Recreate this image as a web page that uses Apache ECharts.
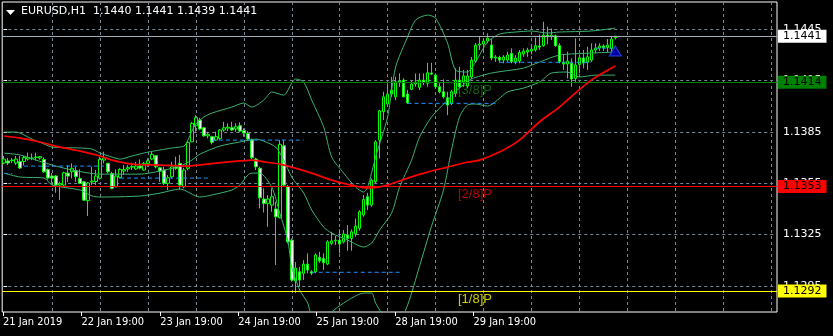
<!DOCTYPE html>
<html><head><meta charset="utf-8">
<script src="https://cdn.jsdelivr.net/npm/echarts@6/dist/echarts.min.js"></script>
<style>html,body{margin:0;padding:0;background:#000;}#c{width:833px;height:336px;}</style>
</head><body><div id="c"></div>
<script>
// ---------- data ----------
const symbolName = 'EURUSD,H1';
const opens = [1.13668,1.13680,1.13682,1.13668,1.13677,1.13677,1.13691,1.13694,1.13700,1.13697,
1.13689,1.13630,1.13592,1.13592,1.13539,1.13539,1.13609,1.13617,1.13623,1.13578,
1.13558,1.13448,1.13557,1.13560,1.13580,1.13685,1.13666,1.13607,1.13529,1.13584,
1.13621,1.13633,1.13644,1.13633,1.13650,1.13627,1.13666,1.13691,1.13711,1.13640,
1.13627,1.13549,1.13588,1.13646,1.13666,1.13529,1.13637,1.13792,1.13886,1.13919,
1.13874,1.13827,1.13822,1.13802,1.13812,1.13861,1.13872,1.13874,1.13867,1.13886,
1.13858,1.13841,1.13802,1.13691,1.13637,1.13457,1.13432,1.13422,1.13399,1.13348,
1.13769,1.13529,1.13217,1.12978,1.13032,1.13023,1.13077,1.13032,1.13032,1.13116,
1.13110,1.13077,1.13198,1.13213,1.13217,1.13207,1.13247,1.13227,1.13253,1.13286,
1.13364,1.13471,1.13422,1.13558,1.13802,1.13968,1.14013,1.14071,1.14055,1.14141,
1.14153,1.14071,1.14099,1.14130,1.14110,1.14153,1.14134,1.14194,1.14182,1.14114,
1.14085,1.14050,1.14017,1.14075,1.14153,1.14143,1.14118,1.14171,1.14264,1.14358,
1.14364,1.14381,1.14358,1.14282,1.14286,1.14270,1.14270,1.14309,1.14260,1.14264,
1.14305,1.14317,1.14323,1.14329,1.14352,1.14354,1.14416,1.14407,1.14412,1.14354,
1.14257,1.14247,1.14251,1.14163,1.14245,1.14282,1.14257,1.14270,1.14329,1.14340,
1.14352,1.14343,1.14338,1.14400];
const highs = [1.13709,1.13697,1.13697,1.13709,1.13709,1.13709,1.13729,1.13723,1.13729,1.13709,
1.13701,1.13636,1.13609,1.13598,1.13558,1.13617,1.13656,1.13666,1.13646,1.13631,
1.13564,1.13557,1.13646,1.13627,1.13705,1.13734,1.13670,1.13617,1.13631,1.13637,
1.13656,1.13656,1.13670,1.13675,1.13689,1.13675,1.13695,1.13734,1.13715,1.13646,
1.13646,1.13598,1.13675,1.13705,1.13715,1.13640,1.13796,1.13909,1.13948,1.13933,
1.13880,1.13851,1.13827,1.13851,1.13867,1.13909,1.13900,1.13909,1.13900,1.13906,
1.13871,1.13855,1.13812,1.13699,1.13646,1.13520,1.13481,1.13520,1.13441,1.13802,
1.13802,1.13539,1.13227,1.13089,1.13061,1.13100,1.13140,1.13042,1.13140,1.13149,
1.13140,1.13217,1.13266,1.13241,1.13280,1.13276,1.13305,1.13280,1.13344,1.13393,
1.13481,1.13494,1.13578,1.13802,1.13978,1.14085,1.14134,1.14172,1.14172,1.14192,
1.14163,1.14095,1.14153,1.14192,1.14192,1.14192,1.14254,1.14254,1.14192,1.14134,
1.14157,1.14085,1.14095,1.14222,1.14231,1.14212,1.14212,1.14288,1.14370,1.14405,
1.14399,1.14426,1.14393,1.14299,1.14295,1.14299,1.14319,1.14338,1.14299,1.14329,
1.14338,1.14342,1.14358,1.14401,1.14420,1.14494,1.14465,1.14455,1.14420,1.14368,
1.14303,1.14319,1.14280,1.14397,1.14303,1.14329,1.14348,1.14368,1.14368,1.14368,
1.14362,1.14393,1.14412,1.14410];
const lows = [1.13662,1.13656,1.13668,1.13656,1.13633,1.13653,1.13682,1.13685,1.13682,1.13688,
1.13611,1.13571,1.13551,1.13494,1.13451,1.13533,1.13558,1.13578,1.13558,1.13545,
1.13448,1.13358,1.13539,1.13539,1.13572,1.13666,1.13607,1.13514,1.13526,1.13578,
1.13598,1.13617,1.13627,1.13627,1.13631,1.13624,1.13646,1.13685,1.13637,1.13558,
1.13539,1.13510,1.13578,1.13627,1.13510,1.13520,1.13627,1.13789,1.13851,1.13861,
1.13822,1.13812,1.13777,1.13796,1.13802,1.13851,1.13855,1.13855,1.13851,1.13847,
1.13822,1.13796,1.13691,1.13627,1.13403,1.13379,1.13295,1.13383,1.13071,1.13344,
1.13529,1.13198,1.12974,1.12908,1.12944,1.12984,1.13023,1.13013,1.13023,1.13085,
1.13042,1.13071,1.13188,1.13188,1.13140,1.13198,1.13155,1.13155,1.13237,1.13272,
1.13354,1.13393,1.13412,1.13549,1.13695,1.13919,1.13997,1.14055,1.14036,1.14114,
1.14052,1.14013,1.14095,1.14114,1.14095,1.14124,1.14114,1.14182,1.14110,1.14075,
1.14046,1.13948,1.14007,1.14055,1.14105,1.14114,1.14106,1.14159,1.14253,1.14329,
1.14323,1.14368,1.14270,1.14260,1.14257,1.14251,1.14260,1.14251,1.14245,1.14251,
1.14289,1.14289,1.14303,1.14319,1.14329,1.14348,1.14362,1.14387,1.14348,1.14251,
1.14212,1.14163,1.14114,1.14143,1.14192,1.14222,1.14212,1.14260,1.14309,1.14323,
1.14323,1.14315,1.14303,1.14390];
const closes = [1.13691,1.13668,1.13685,1.13691,1.13639,1.13700,1.13700,1.13697,1.13703,1.13705,
1.13617,1.13580,1.13580,1.13539,1.13548,1.13611,1.13592,1.13637,1.13588,1.13549,
1.13451,1.13551,1.13562,1.13592,1.13689,1.13697,1.13617,1.13520,1.13592,1.13631,
1.13630,1.13641,1.13647,1.13650,1.13639,1.13666,1.13681,1.13719,1.13646,1.13621,
1.13549,1.13582,1.13646,1.13637,1.13539,1.13627,1.13789,1.13900,1.13933,1.13867,
1.13827,1.13836,1.13789,1.13822,1.13861,1.13874,1.13878,1.13861,1.13880,1.13855,
1.13843,1.13808,1.13699,1.13646,1.13465,1.13432,1.13457,1.13471,1.13354,1.13777,
1.13539,1.13207,1.12984,1.13054,1.12984,1.13077,1.13042,1.13024,1.13130,1.13096,
1.13085,1.13207,1.13213,1.13217,1.13194,1.13253,1.13227,1.13266,1.13299,1.13383,
1.13455,1.13422,1.13568,1.13792,1.13974,1.14055,1.14071,1.14095,1.14143,1.14147,
1.14055,1.14020,1.14130,1.14141,1.14153,1.14141,1.14196,1.14188,1.14114,1.14085,
1.14055,1.14007,1.14085,1.14153,1.14114,1.14178,1.14177,1.14270,1.14358,1.14364,
1.14381,1.14399,1.14282,1.14288,1.14270,1.14288,1.14299,1.14260,1.14282,1.14315,
1.14323,1.14329,1.14334,1.14354,1.14346,1.14416,1.14407,1.14416,1.14354,1.14260,
1.14247,1.14264,1.14159,1.14241,1.14283,1.14253,1.14289,1.14329,1.14340,1.14352,
1.14343,1.14358,1.14393,1.14410];

// Bollinger bands and moving average: [bar index, price] vertices
const bbUpper = [[0,1.13849],[3,1.13849],[4,1.13843],[7,1.13808],[10,1.13779],[12,1.13761],[19,1.13756],[22,1.13750],
[24,1.13726],[27,1.13703],[29,1.13691],[32,1.13709],[36,1.13732],[39,1.13744],[42,1.13756],[45,1.13767],[46,1.13802],
[47,1.13855],[48,1.13896],[50,1.13937],[52,1.13960],[57,1.13995],[60,1.14019],[62,1.13995],[65,1.14036],[67,1.14083],
[70,1.14065],[72,1.14136],[73,1.14159],[75,1.14141],[77,1.14036],[80,1.13878],[82,1.13703],[85,1.13609],[88,1.13527],
[90,1.13498],[91,1.13527],[93,1.13703],[96,1.13937],[98,1.14229],[101,1.14405],[103,1.14504],[106,1.14533],[108,1.14516],
[111,1.14370],[113,1.14212],[116,1.14200],[118,1.14258],[121,1.14375],[124,1.14422],[128,1.14434],[132,1.14440],
[136,1.14428],[139,1.14434],[147,1.14440],[153,1.14457]];
const bbMiddle = [[0,1.13726],[4,1.13715],[8,1.13685],[12,1.13656],[17,1.13627],[24,1.13603],[34,1.13603],[39,1.13621],
[44,1.13650],[47,1.13685],[49,1.13720],[54,1.13767],[59,1.13791],[63,1.13808],[65,1.13796],[68,1.13761],[70,1.13685],
[72,1.13586],[75,1.13492],[77,1.13393],[80,1.13293],[82,1.13258],[86,1.13217],[90,1.13177],[92,1.13200],[94,1.13276],
[97,1.13375],[99,1.13527],[102,1.13685],[104,1.13820],[107,1.13937],[111,1.14036],[114,1.14106],[117,1.14159],
[122,1.14194],[130,1.14223],[134,1.14258],[139,1.14299],[147,1.14311],[153,1.14317]];
const bbLower = [[0,1.13609],[4,1.13586],[10,1.13580],[12,1.13539],[19,1.13510],[22,1.13475],[24,1.13469],[34,1.13475],
[39,1.13492],[44,1.13516],[49,1.13469],[52,1.13481],[57,1.13510],[59,1.13539],[61,1.13598],[62,1.13609],[64,1.13609],
[67,1.13527],[69,1.13375],[71,1.13217],[72,1.13060],[74,1.12925],[76,1.12849],[77,1.12773],[80,1.12720],[82,1.12796],
[85,1.12849],[87,1.12878],[90,1.12908],[92,1.12908],[93,1.12849],[96,1.12738],[98,1.12703],[101,1.12837],[104,1.13065],
[107,1.13299],[110,1.13510],[112,1.13744],[114,1.13937],[116,1.14007],[118,1.14013],[121,1.14001],[126,1.14083],
[130,1.14106],[134,1.14141],[137,1.14194],[141,1.14200],[144,1.14171],[148,1.14182],[153,1.14182]];
const maLine = [[0,1.13826],[4,1.13814],[9,1.13791],[14,1.13761],[19,1.13738],[24,1.13709],[27,1.13685],[32,1.13662],
[39,1.13656],[46,1.13650],[52,1.13665],[59,1.13680],[62,1.13685],[66,1.13671],[69,1.13662],[72,1.13644],[77,1.13609],
[82,1.13568],[88,1.13533],[91,1.13522],[96,1.13539],[101,1.13580],[106,1.13615],[111,1.13644],[115,1.13668],
[119,1.13685],[124,1.13732],[129,1.13802],[134,1.13908],[139,1.13995],[143,1.14077],[147,1.14153],[153,1.14235]];
// dashed support/resistance segments: [from bar, to bar, price]
const dashedLevels = [[0,2,1.13607],[5,25,1.13650],[29,51,1.13580],[52,75,1.13802],[77,99,1.13029],
[101,123,1.14017],[124,147,1.14257],[148,152,1.14340]];
// horizontal price lines with right-hand price tags
const levelValues = [1.1441, 1.1414, 1.1353, 1.1292];
const levelColors = ['#a3adb8', '#008000', '#ff0000', '#ffff00'];
const tagColors = ['#ffffff', '#008000', '#ff0000', '#ffff00'];
// Murrey math captions
const murreyTexts = ['[3/8]P', '[2/8]P', '[1/8]P'];
const murreyLevels = [1.1414, 1.1353, 1.1292];
const murreyBar = 113;
const murreyColors = ['#137a13', '#e00000', '#ffff00'];
const arrowPoint = [153, 1.14323];
// axes
const priceTicks = [1.1295, 1.1325, 1.1355, 1.1385, 1.1415, 1.1445];
const timeLabels = ['21 Jan 2019','22 Jan 19:00','23 Jan 19:00','24 Jan 19:00','25 Jan 19:00','28 Jan 19:00','29 Jan 19:00'];
const timeLabelBars = [-0.3, 19.35, 39.05, 58.6, 78.2, 97.9, 117.5];
const gridBars = [12,24,36,48,60,72,84,96,108,120,132,144,156,168,180,192];
const totalSlots = 194;
const yMin = 1.127968, yMax = 1.1460965;

// ---------- chart ----------
const n = opens.length;
const candleData = opens.map((o, i) => [o, closes[i], lows[i], highs[i]]);
const slots = Array.from({length: totalSlots}, (_, i) => i);
const f4 = v => v.toFixed(4);
const last = n - 1;
const headerText = symbolName + '  ' + f4(opens[last]) + ' ' + f4(highs[last]) + ' ' + f4(lows[last]) + ' ' + f4(closes[last]);
const FONT = 'DejaVu Sans';

const series = [];
// horizontal level lines with price tags (carried by an otherwise empty line series)
series.push({
  type: 'line', data: [], z: 2, silent: true, symbol: 'none',
  markLine: {
    symbol: 'none', silent: true, animation: false, precision: 5,
    data: levelValues.map((v, k) => ({
      yAxis: v,
      lineStyle: { color: levelColors[k], width: 1, type: 'solid' },
      label: { show: true, position: 'end', distance: 1, formatter: f4(v), color: '#000000',
        backgroundColor: tagColors[k], padding: [1, 5, 0, 5], fontFamily: FONT, fontSize: 11, lineHeight: 12 }
    }))
  }
});
series.push({
  type: 'candlestick', xAxisIndex: 0, yAxisIndex: 0, data: candleData, barWidth: 3, z: 3,
  itemStyle: { color: '#000000', color0: '#ffffff', borderColor: '#00ff00', borderColor0: '#00ff00', borderColorDoji: '#00ff00', borderWidth: 1 }
});
[bbUpper, bbMiddle, bbLower].forEach(d => series.push({
  type: 'line', data: d, symbol: 'none', smooth: 0.25, z: 4, silent: true,
  lineStyle: { color: '#3cb371', width: 1 }
}));
series.push({ type: 'line', data: maLine, symbol: 'none', smooth: 0.25, z: 5, silent: true,
  lineStyle: { color: '#ff0000', width: 1.7 } });
dashedLevels.forEach(([a, b, p]) => series.push({
  type: 'line', data: [[a, p], [b, p]], symbol: 'none', z: 4, silent: true,
  lineStyle: { color: '#1e90ff', width: 1, type: [4, 3] }
}));
murreyTexts.forEach((t, k) => series.push({
  type: 'scatter', data: [[murreyBar, murreyLevels[k]]], symbolSize: 1, z: 1, silent: true,
  itemStyle: { color: 'rgba(0,0,0,0)' },
  label: { show: true, position: 'right', distance: 2, offset: [0, 8], formatter: t,
    color: murreyColors[k], fontFamily: 'Liberation Sans', fontSize: 13 }
}));
series.push({ type: 'scatter', data: [arrowPoint], symbol: 'triangle', symbolSize: [12, 10], z: 6, silent: true,
  itemStyle: { color: '#0000c8', borderColor: '#3050ff', borderWidth: 1 } });

const option = {
  backgroundColor: '#000000',
  animation: false,
  title: { text: headerText, left: 21, top: 6, padding: 0,
    textStyle: { color: '#ffffff', fontFamily: FONT, fontSize: 11, fontWeight: 'normal' } },
  graphic: [{ type: 'polygon', shape: { points: [[6, 10], [15, 10], [10.5, 15]] }, style: { fill: '#ffffff' } }],
  grid: { left: 2, right: 56, top: 2, bottom: 24, show: true, borderColor: '#ffffff', borderWidth: 1, backgroundColor: 'transparent' },
  xAxis: [
    { type: 'category', data: slots, boundaryGap: true, axisLine: { show: false }, axisTick: { show: false },
      axisLabel: { show: false }, splitLine: { show: false } },
    { type: 'value', min: -0.5, max: totalSlots - 0.5, position: 'bottom', axisLine: { show: false },
      axisTick: { show: false, customValues: gridBars }, axisLabel: { show: false },
      splitLine: { show: true, lineStyle: { color: '#778899', width: 1, type: [3, 3] } } },
    { type: 'value', min: -0.5, max: totalSlots - 0.5, position: 'bottom', axisLine: { show: false },
      axisTick: { show: true, customValues: timeLabelBars, length: 4, lineStyle: { color: '#ffffff' } },
      axisLabel: { show: true, customValues: timeLabelBars, align: 'left', margin: 5, color: '#ffffff',
        fontFamily: 'DejaVu Sans Condensed, Liberation Sans Narrow, DejaVu Sans', fontSize: 11,
        formatter: v => { let b = 0; timeLabelBars.forEach((t, k) => { if (Math.abs(t - v) < Math.abs(timeLabelBars[b] - v)) b = k; }); return timeLabels[b]; } },
      splitLine: { show: false } }
  ],
  yAxis: {
    type: 'value', position: 'right', min: yMin, max: yMax,
    axisLine: { show: false },
    axisTick: { show: true, length: 3, customValues: priceTicks, lineStyle: { color: '#ffffff' } },
    axisLabel: { customValues: priceTicks, color: '#ffffff', fontFamily: FONT, fontSize: 11, margin: 6, formatter: f4 },
    splitLine: { show: true, lineStyle: { color: '#778899', width: 1, type: [3, 3] } }
  },
  series
};
const chart = echarts.init(document.getElementById('c'), null, { renderer: 'canvas' });
chart.setOption(option);
</script></body></html>
